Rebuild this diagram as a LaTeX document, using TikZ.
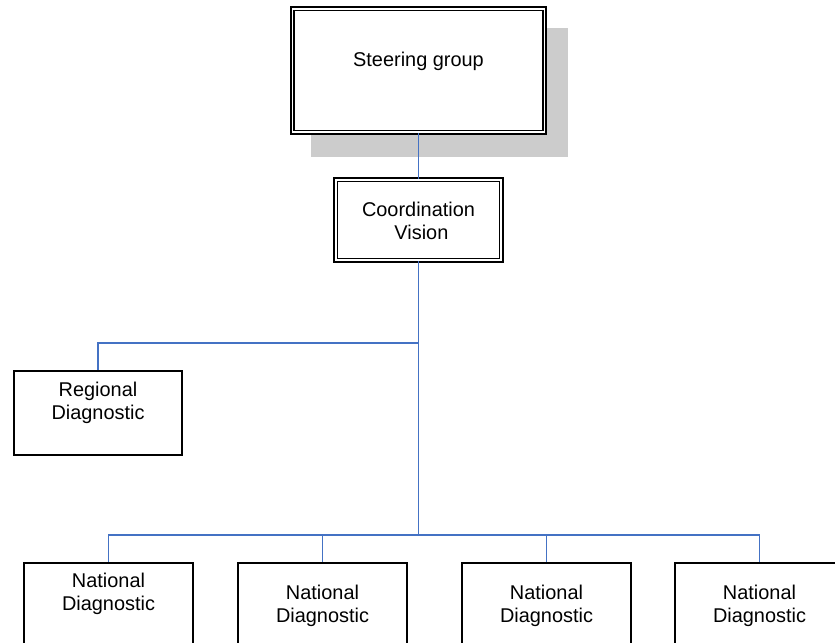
\documentclass[tikz,border=0pt]{standalone}
\usepackage{fontspec}
\setmainfont{Liberation Sans}
\usepackage{tikz}
\definecolor{linkblue}{HTML}{4472C4}

\begin{document}
\begin{tikzpicture}[x=0.03cm,y=-0.03cm,
    box/.style={rectangle,draw,line width=1.5pt,inner sep=0pt},
    dbox/.style={rectangle,draw,line width=1.4pt,double,double distance=1.6pt,inner sep=0pt},
    txt/.style={align=center,inner sep=0pt,anchor=north,font=\fontsize{17}{19.6}\selectfont},
    link/.style={draw=linkblue,line width=1.6pt}]
          \useasboundingbox (0,0) rectangle (835,643);
          \fill[black!20] (311,28) rectangle (568,157);
          \node[dbox,fill=white,minimum width=7.56cm,minimum height=3.71cm] (steer) at (418.5,70.5) {};
          \node[dbox,minimum width=4.97cm,minimum height=2.42cm] (coord) at (418.5,220) {};
          \node[box,minimum width=5.04cm,minimum height=2.52cm] (reg) at (98,413) {};
          \node[box,minimum width=5.07cm,minimum height=2.52cm] (nat1) at (108.5,605) {};
          \node[box,minimum width=5.07cm,minimum height=2.52cm] (nat2) at (322.5,605) {};
          \node[box,minimum width=5.07cm,minimum height=2.52cm] (nat3) at (546.5,605) {};
          \node[box,minimum width=5.07cm,minimum height=2.52cm] (nat4) at (759.5,605) {};
          \node[txt] (steert) at (418.5,52) {Steering group};
          \node[txt] (coordt) at (418.5,202) {Coordination\\ \hspace{5pt}Vision};
          \node[txt] (regt) at (98,382) {Regional\\Diagnostic};
          \node[txt] (nat1t) at (108.5,573) {National\\Diagnostic};
          \node[txt] (nat2t) at (322.5,585) {National\\Diagnostic};
          \node[txt] (nat3t) at (546.5,585) {National\\Diagnostic};
          \node[txt] (nat4t) at (759.5,585) {National\\Diagnostic};
          \coordinate (j1) at (418.5,343);
          \coordinate (j2) at (418.5,535);
          \draw[link] (steer) -- (coord);
          \draw[link] (coord) -- (j2);
          \draw[link] (j1) -| (reg.north);
          \draw[link] (j2) -| (nat1.north);
          \draw[link] (j2) -| (nat2.north);
          \draw[link] (j2) -| (nat3.north);
          \draw[link] (j2) -| (nat4.north);
        \end{tikzpicture}
\end{document}
